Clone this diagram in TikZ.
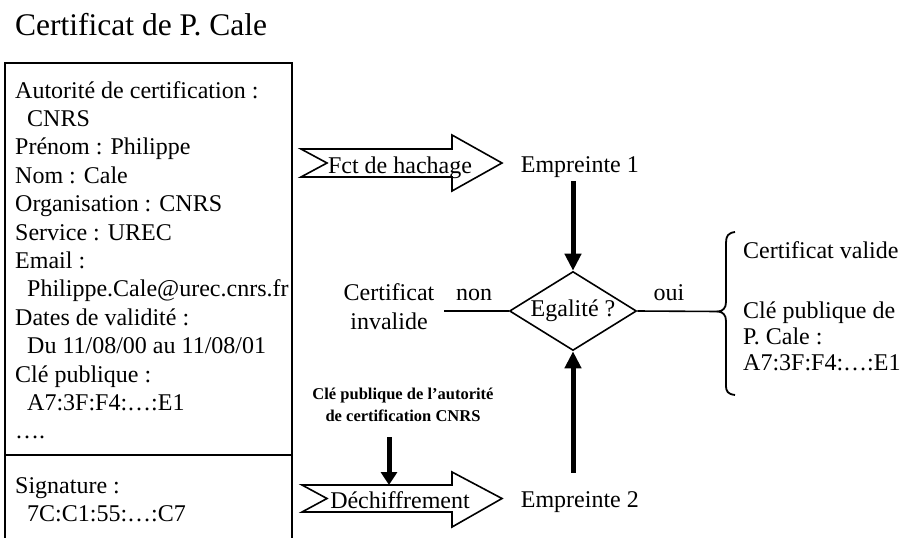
\documentclass[tikz,border=0pt]{standalone}
\usepackage{fontspec}
\setmainfont{Liberation Serif}
\usetikzlibrary{shapes.geometric,arrows.meta}
\begin{document}
\begin{tikzpicture}[x=1pt,y=-1pt,
  txt/.style={font=\fontsize{24}{28}\selectfont, inner sep=0pt, anchor=base west},
  ctxt/.style={font=\fontsize{24}{28}\selectfont, inner sep=0pt, anchor=base},
  boldtxt/.style={font=\fontsize{16.5}{20}\selectfont\bfseries, inner sep=0pt, anchor=base},
  outline/.style={line width=1.6pt, line join=miter},
  boxline/.style={line width=1.8pt},
  bigarrow/.style={line width=5pt, -{Triangle[width=16pt,length=17pt]}},
  smallarrow/.style={line width=5pt, -{Triangle[width=16pt,length=13pt]}},
]
\useasboundingbox (0,0) rectangle (905,538);

% title
\node[anchor=base west, inner sep=0pt, font=\fontsize{31.5}{36}\selectfont] (title) at (15,35) {Certificat de P. Cale};

% certificate box
\draw[boxline] (5,538) -- (5,63) -- (292,63) -- (292,538);
\draw[boxline] (5,455) -- (293,455);

\node[txt] (f0) at (15,98) {Autorité de certification :};
\node[txt] (f1) at (27,126.4) {CNRS};
\node[txt] (f2) at (15,154.8) {Prénom : Philippe};
\node[txt] (f3) at (15,183.2) {Nom : Cale};
\node[txt] (f4) at (15,211.6) {Organisation : CNRS};
\node[txt] (f5) at (15,240) {Service : UREC};
\node[txt] (f6) at (15,268.4) {Email :};
\node[txt] (f7) at (27,296.8) {Philippe.Cale@urec.cnrs.fr};
\node[txt] (f8) at (15,325.2) {Dates de validité :};
\node[txt] (f9) at (27,353.6) {Du 11/08/00 au 11/08/01};
\node[txt] (f10) at (15,382) {Clé publique :};
\node[txt] (f11) at (27,410.4) {A7:3F:F4:…:E1};
\node[txt] (f12) at (15,438.8) {….};
\node[txt] (s0) at (15,493) {Signature :};
\node[txt] (s1) at (27,521) {7C:C1:55:…:C7};

% block arrows
\draw[outline] (301,149) -- (452,149) -- (452,135) -- (502,163) -- (452,191) -- (452,177) -- (301,177) -- (327,163) -- cycle;
\node[ctxt] (fct) at (400,173) {Fct de hachage};
\draw[outline] (302,485) -- (452,485) -- (452,472) -- (502,498.5) -- (452,527) -- (452,512) -- (302,512) -- (327,498.5) -- cycle;
\node[ctxt] (dech) at (400,508) {Déchiffrement};

% fingerprints
\node[txt] (e1) at (520.7,172) {Empreinte 1};
\node[txt] (e2) at (520.7,507) {Empreinte 2};

% decision
\node[draw, diamond, line width=1.6pt, aspect=1.6, minimum width=127pt, minimum height=79pt, inner sep=0pt,
      font=\fontsize{24}{28}\selectfont] (eg) at (573,311) {Egalité ?};

\draw[bigarrow] ([yshift=-4pt]e1.south -| eg.north) -- (eg.north);
\draw[bigarrow] ([yshift=18pt]e2.north -| eg.south) -- (eg.south);

% public key of CA
\node[boldtxt] (k1) at (403,399) {Clé publique de l’autorité};
\node[boldtxt] (k2) at (403,421) {de certification CNRS};
\coordinate (dtop) at (389,485);
\draw[smallarrow] ([yshift=-16pt]k2.south -| dtop) -- (dtop);

% no branch
\node[ctxt] (inv1) at (389,300) {Certificat};
\node[ctxt] (inv2) at (389,329) {invalide};
\node[ctxt] (non) at (474,300) {non};
\coordinate (nl) at (444,311);
\draw[line width=1.6pt] (nl) -- (eg.west);

% yes branch
\node[ctxt] (oui) at (669,300) {oui};
\coordinate (br) at (718,311.5);
\draw[line width=1.6pt] (eg.east) -- (br);
\draw[line width=1.8pt] (735,232) .. controls (728,233) and (726,236) .. (726,243) -- (726,302)
  .. controls (726,308) and (723,311) .. (br)
  .. controls (723,312) and (726,315) .. (726,321) -- (726,385)
  .. controls (726,392) and (728,394) .. (735,395);

\node[txt] (v1) at (743,258) {Certificat valide};
\node[txt] (v2) at (743,318) {Clé publique de};
\node[txt] (v3) at (743,344) {P. Cale :};
\node[txt] (v4) at (743,370) {A7:3F:F4:…:E1};
\end{tikzpicture}
\end{document}
